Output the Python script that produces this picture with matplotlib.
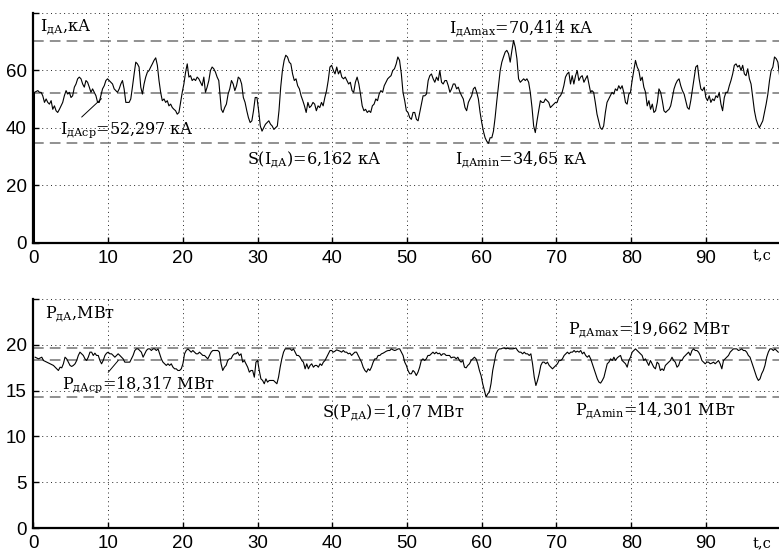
import numpy as np
import matplotlib as mpl
mpl.use('Agg')
import matplotlib.pyplot as plt

mpl.rc('font', family=['Liberation Sans', 'DejaVu Sans'], size=13.5)
mpl.rc('figure', facecolor='w')

##### DATA #####

# arc current, t in s, I in kA
tCurrent = [
    0.13, 0.13,
    0.58, 0.80, 1.02, 1.24, 1.47, 1.69, 1.91, 2.13, 2.36,
    2.58, 2.80, 3.02, 3.24, 3.47, 3.69, 3.91, 4.13, 4.36,
    4.58, 4.80, 5.02, 5.24, 5.47, 5.69, 5.91, 6.13, 6.36,
    6.58, 6.80, 7.02, 7.24, 7.47, 7.69, 7.91, 8.13, 8.36,
    8.58, 8.80, 9.02, 9.24, 9.47, 9.69, 9.91, 10.13, 10.36,
    10.58, 10.80, 11.02, 11.24, 11.47, 11.69, 11.91, 12.13, 12.36,
    12.58, 12.80, 13.02, 13.24, 13.47, 13.69, 13.91, 14.13, 14.36,
    14.58, 14.80, 15.02, 15.24, 15.47, 15.69, 15.91, 16.13, 16.36,
    16.58, 16.80, 17.02, 17.24, 17.47, 17.69, 17.91, 18.13, 18.36,
    18.58, 18.80, 19.02, 19.24, 19.47, 19.69, 19.91, 20.13, 20.36,
    20.58, 20.80, 21.02, 21.24, 21.47, 21.69, 21.91, 22.13, 22.36,
    22.58, 22.80, 23.02, 23.24, 23.47, 23.69, 23.91, 24.13, 24.36,
    24.58, 24.80,
    25.14, 25.36, 25.59, 25.82, 26.05, 26.27, 26.50, 26.73, 26.95, 27.18,
    27.41, 27.64, 27.86, 28.09, 28.32, 28.55, 28.77, 29.00, 29.23, 29.45,
    29.68, 29.91, 30.14, 30.36, 30.59, 30.82, 31.05, 31.27, 31.50, 31.73,
    31.95, 32.18, 32.41, 32.64, 32.86, 33.09, 33.32, 33.55, 33.77, 34.00,
    34.23, 34.45, 34.68, 34.91, 35.14, 35.36, 35.59, 35.82, 36.05, 36.27,
    36.50, 36.73, 36.95, 37.18, 37.41, 37.64, 37.86, 38.09, 38.32, 38.55,
    38.77, 39.00, 39.23, 39.45, 39.68, 39.91, 40.14, 40.36, 40.59, 40.82,
    41.05, 41.27, 41.50, 41.73, 41.95, 42.18, 42.41, 42.64, 42.86, 43.09,
    43.32, 43.55, 43.77, 44.00, 44.23, 44.45, 44.68, 44.91, 45.14, 45.36,
    45.59, 45.82, 46.05, 46.27, 46.50, 46.73, 46.95, 47.18, 47.41, 47.64,
    47.86, 48.09, 48.32, 48.55, 48.77, 49.00,
    49.24, 49.46, 49.69, 49.91, 50.13, 50.36, 50.58, 50.81, 51.03, 51.26,
    51.48, 51.70, 51.93, 52.15, 52.38, 52.60, 52.83, 53.05, 53.27, 53.50,
    53.72, 53.95, 54.17, 54.39, 54.62, 54.84, 55.07, 55.29, 55.52, 55.74,
    55.96, 56.19, 56.41, 56.64, 56.86, 57.09, 57.31, 57.53, 57.76, 57.98,
    58.21, 58.43, 58.65, 58.88, 59.10, 59.33, 59.55, 59.78, 60.00, 60.22,
    60.45, 60.67, 60.90, 61.12, 61.35, 61.57, 61.79, 62.02, 62.24, 62.47,
    62.69, 62.91, 63.14, 63.36, 63.59, 63.81, 64.04, 64.26, 64.48, 64.71,
    64.93, 65.16, 65.38, 65.61, 65.83, 66.05, 66.28, 66.50, 66.73, 66.95,
    67.17, 67.40, 67.62, 67.85, 68.07, 68.30, 68.52, 68.74, 68.97, 69.19,
    69.42, 69.64, 69.87, 70.09, 70.31, 70.54, 70.76, 70.99, 71.21, 71.43,
    71.66, 71.88, 72.11, 72.33, 72.56, 72.78, 73.00, 73.23, 73.45, 73.68,
    73.90, 74.13, 74.35, 74.57,
    74.75, 74.98, 75.20, 75.43, 75.65, 75.87, 76.10, 76.32, 76.55, 76.77,
    77.00, 77.22, 77.44, 77.67, 77.89, 78.12, 78.34, 78.57, 78.79, 79.01,
    79.24, 79.46, 79.69, 79.91, 80.13, 80.36, 80.58, 80.81, 81.03, 81.26,
    81.48, 81.70, 81.93, 82.15, 82.38, 82.60, 82.83, 83.05, 83.27, 83.50,
    83.72, 83.95, 84.17, 84.39, 84.62, 84.84, 85.07, 85.29, 85.52, 85.74,
    85.96, 86.19, 86.41, 86.64, 86.86, 87.09, 87.31, 87.53, 87.76, 87.98,
    88.21, 88.43, 88.65, 88.88, 89.10, 89.33, 89.55, 89.78, 90.00, 90.22,
    90.45, 90.67, 90.90, 91.12, 91.35, 91.57, 91.79, 92.02, 92.24, 92.47,
    92.69, 92.91, 93.14, 93.36, 93.59, 93.81, 94.04, 94.26, 94.48, 94.71,
    94.93, 95.16, 95.38, 95.61, 95.83, 96.05, 96.28, 96.50, 96.73, 96.95,
    97.17, 97.40, 97.62, 97.85, 98.07, 98.30, 98.52, 98.74, 98.97, 99.19,
    99.42, 99.64, 99.87,
]
iCurrent = [
    0.0, 52.4,
    53.0, 52.4, 52.4, 51.2, 48.9, 50.1, 48.9, 48.3, 49.5,
    46.5, 47.7, 46.0, 45.4, 46.5, 47.7, 48.9, 51.2, 53.0,
    51.8, 52.4, 50.6, 51.2, 54.2, 55.3, 57.1, 57.7, 57.1,
    55.3, 54.2, 56.5, 55.9, 54.2, 52.4, 53.6, 52.4, 51.2,
    48.9, 48.9, 51.2, 53.6, 54.7, 56.5, 57.1, 56.5, 55.9,
    55.3, 53.6, 53.0, 52.4, 53.6, 55.3, 56.5, 53.6, 48.9,
    48.9, 48.9, 50.1, 54.2, 58.8, 62.9, 62.3, 61.2, 54.2,
    51.8, 55.3, 57.7, 59.4, 60.0, 61.2, 62.3, 63.5, 64.4,
    61.8, 56.5, 52.4, 49.5, 50.1, 48.9, 49.5, 47.7, 48.3,
    47.1, 46.5, 46.0, 44.8, 45.4, 48.9, 52.4, 55.3, 59.4,
    62.3, 57.7, 58.2, 56.5, 57.1, 56.5, 57.7, 57.1, 55.9,
    54.7, 57.7, 52.4, 54.2, 56.5, 60.0, 61.2, 60.6, 59.4,
    57.7, 56.5,
    46.5, 45.4, 47.1, 48.3, 51.8, 53.6, 56.5, 55.3, 53.0, 54.7,
    57.7, 57.1, 55.3, 50.6, 48.9, 46.0, 43.6, 41.9, 42.5, 46.0,
    50.6, 50.6, 46.0, 40.7, 38.9, 40.1, 41.3, 41.9, 42.5, 41.3,
    40.7, 39.5, 40.1, 40.7, 46.0, 54.2, 60.0, 63.5, 65.3, 64.7,
    62.9, 62.3, 58.8, 56.5, 57.1, 54.7, 53.6, 51.2, 49.5, 47.7,
    45.4, 48.9, 47.1, 47.7, 48.9, 48.3, 46.0, 47.7, 47.1, 48.9,
    47.7, 50.6, 53.0, 56.5, 61.2, 61.8, 60.0, 58.8, 61.2, 58.8,
    60.0, 57.7, 57.1, 57.7, 56.5, 55.3, 55.9, 53.0, 52.4, 55.9,
    57.7, 55.3, 51.8, 47.7, 46.0, 46.5, 45.4, 46.0, 45.4, 47.7,
    48.3, 50.1, 49.5, 51.8, 53.0, 52.4, 54.7, 55.9, 57.1, 57.7,
    58.2, 60.0, 60.6, 62.3, 64.7, 63.5,
    58.8, 52.4, 49.5, 46.0, 45.4, 43.6, 43.0, 45.4, 45.4, 43.0,
    42.5, 45.4, 48.3, 51.2, 51.2, 51.8, 56.5, 58.2, 58.8, 57.1,
    55.9, 57.7, 56.5, 60.0, 55.9, 55.3, 56.5, 56.5, 54.7, 52.4,
    53.6, 55.3, 55.3, 53.6, 54.2, 52.4, 51.2, 50.1, 47.1, 46.0,
    48.9, 50.1, 51.2, 53.6, 54.2, 52.4, 50.1, 45.4, 41.9, 38.9,
    36.6, 35.4, 34.65, 36.6, 36.6, 38.9, 43.6, 49.5, 54.7, 60.0,
    62.9, 64.7, 66.4, 67.0, 65.8, 62.9, 67.0, 70.414, 68.2, 64.1,
    57.1, 55.9, 56.5, 57.1, 56.5, 57.1, 55.9, 52.4, 47.1, 40.7,
    38.4, 42.5, 46.0, 49.5, 48.9, 48.9, 50.1, 49.5, 48.9, 47.1,
    47.7, 48.3, 48.9, 48.9, 50.6, 51.2, 52.4, 54.7, 57.7, 58.8,
    59.4, 55.3, 58.2, 55.3, 58.2, 60.0, 56.5, 57.7, 58.2, 55.9,
    57.1, 58.2, 55.3, 52.4,
    53.0, 52.4, 48.9, 44.8, 42.5, 40.1, 39.5, 40.7, 45.4, 48.9,
    50.1, 51.2, 52.4, 51.8, 53.6, 53.0, 54.7, 53.6, 54.7, 52.4,
    48.9, 48.3, 51.8, 52.4, 56.5, 60.0, 63.5, 61.2, 60.0, 56.5,
    57.7, 54.2, 52.4, 47.7, 49.5, 46.5, 48.3, 45.4, 46.0, 48.9,
    53.6, 52.4, 49.5, 46.0, 45.4, 46.0, 46.5, 47.7, 50.6, 53.6,
    55.3, 56.5, 57.1, 54.7, 53.0, 51.8, 49.5, 47.1, 46.5, 49.5,
    53.6, 57.7, 61.2, 61.8, 57.1, 53.6, 53.0, 54.2, 50.6, 49.5,
    51.2, 48.9, 50.1, 49.5, 51.2, 50.6, 52.4, 48.3, 46.0, 50.6,
    52.4, 52.4, 54.7, 56.5, 58.8, 61.8, 62.3, 61.2, 61.8, 60.0,
    61.8, 58.8, 58.2, 60.6, 57.1, 55.3, 50.6, 46.0, 43.0, 41.3,
    40.1, 41.3, 42.5, 45.4, 48.3, 51.8, 56.5, 60.0, 61.2, 64.7,
    64.1, 62.9, 58.2,
]

# arc power, t in s, P in MW
tPower = [
    0.22, 0.67, 1.11, 1.33, 1.78, 2.22, 2.67, 3.11,
    3.33, 3.56, 3.78, 4.00, 4.22, 4.44, 4.67, 4.89, 5.11,
    5.33, 5.56, 5.78, 6.00, 6.22, 6.44, 6.67, 6.89, 7.11,
    7.33, 7.56, 7.78, 8.00, 8.22, 8.44, 8.67, 8.89, 9.11,
    9.33, 9.56, 9.78, 10.00, 10.22, 10.44, 10.67, 10.89, 11.11,
    11.33, 11.56, 11.78, 12.00, 12.22, 12.44, 12.67, 12.89, 13.11,
    13.33, 13.56, 13.78, 14.00, 14.22, 14.44, 14.67, 14.89, 15.11,
    15.33, 15.56, 15.78, 16.00, 16.22, 16.44, 16.67, 16.89, 17.11,
    17.33, 17.56, 17.78, 18.00, 18.22, 18.44, 18.67, 18.89, 19.11,
    19.33, 19.56, 19.78, 20.00, 20.22, 20.44, 20.67, 20.89, 21.11,
    21.33, 21.56, 21.78, 22.00, 22.22, 22.44, 22.67, 22.89, 23.11,
    23.33, 23.56, 23.78, 24.00, 24.22, 24.44, 24.67, 24.89, 25.11,
    25.33, 25.56, 25.78, 26.00, 26.22, 26.44, 26.67, 26.89, 27.11,
    27.33, 27.56, 27.78, 28.00, 28.22, 28.44, 28.67, 28.89, 29.11,
    29.33, 29.56, 29.78, 30.00, 30.22, 30.44, 30.67, 30.89, 31.11,
    31.33, 31.56,
    31.91, 32.13, 32.36, 32.58, 32.80, 33.02, 33.24, 33.47, 33.69,
    33.91, 34.13, 34.36, 34.58, 34.80, 35.02, 35.24, 35.47, 35.69,
    35.91, 36.13, 36.36, 36.58, 36.80, 37.02, 37.24, 37.47, 37.69,
    37.91, 38.13, 38.36, 38.58, 38.80, 39.02, 39.24, 39.47, 39.69,
    39.91, 40.13, 40.36, 40.58, 40.80, 41.02, 41.24, 41.47, 41.69,
    41.91, 42.13, 42.36, 42.58, 42.80, 43.02, 43.24, 43.47, 43.69,
    43.91, 44.13, 44.36, 44.58, 44.80, 45.02, 45.24, 45.47, 45.69,
    45.91, 46.13, 46.36, 46.58, 46.80, 47.02, 47.24, 47.47, 47.69,
    47.91, 48.13, 48.36, 48.58, 48.80, 49.02, 49.24, 49.47, 49.69,
    49.91, 50.13, 50.36, 50.58, 50.80, 51.02, 51.24, 51.47, 51.69,
    51.91, 52.13, 52.36, 52.58, 52.80, 53.02, 53.24, 53.47, 53.69,
    53.91, 54.13, 54.36, 54.58, 54.80, 55.02, 55.24, 55.47, 55.69,
    55.91, 56.13, 56.36, 56.58, 56.80, 57.02, 57.24, 57.47, 57.69,
    57.91, 58.13, 58.36, 58.58, 58.80, 59.02, 59.24, 59.47, 59.69,
    59.91, 60.13, 60.36, 60.58, 60.80, 61.02, 61.24, 61.47, 61.69,
    61.91, 62.13, 62.36, 62.58, 62.80, 63.02, 63.24, 63.47, 63.69,
    63.91, 64.13, 64.36, 64.58, 64.80, 65.02, 65.24, 65.47, 65.69,
    65.91, 66.13, 66.36,
    66.58, 66.80, 67.03, 67.25, 67.47, 67.69, 67.91, 68.14, 68.36,
    68.58, 68.80, 69.03, 69.25, 69.47, 69.69, 69.91, 70.14, 70.36,
    70.58, 70.80, 71.03, 71.25, 71.47, 71.69, 71.91, 72.14, 72.36,
    72.58, 72.80, 73.03, 73.25, 73.47, 73.69, 73.91, 74.14, 74.36,
    74.58, 74.80, 75.03, 75.25, 75.47, 75.69, 75.91, 76.14, 76.36,
    76.58, 76.80, 77.03, 77.25, 77.47, 77.69, 77.91, 78.14, 78.36,
    78.58, 78.80, 79.03, 79.25, 79.47, 79.69, 79.91, 80.14, 80.36,
    80.58, 80.80, 81.03, 81.25, 81.47, 81.69, 81.91, 82.14, 82.36,
    82.58, 82.80, 83.03, 83.25, 83.47, 83.69, 83.91, 84.14, 84.36,
    84.58, 84.80, 85.03, 85.25, 85.47, 85.69, 85.91, 86.14, 86.36,
    86.58, 86.80, 87.03, 87.25, 87.47, 87.69, 87.91, 88.14, 88.36,
    88.58, 88.80, 89.03, 89.25, 89.47, 89.69, 89.91, 90.14, 90.36,
    90.58, 90.80, 91.03, 91.25, 91.47, 91.69, 91.91, 92.14, 92.36,
    92.58, 92.80, 93.03, 93.25, 93.47, 93.69, 93.91, 94.14, 94.36,
    94.58, 94.80, 95.03, 95.25, 95.47, 95.69, 95.91, 96.14, 96.36,
    96.58, 96.80, 97.03, 97.25, 97.47, 97.69, 97.91, 98.14, 98.36,
    98.58, 98.80, 99.03, 99.25, 99.47, 99.69,
]
pPower = [
    18.65, 18.47, 18.65, 18.29, 18.11, 17.93, 17.75, 17.38,
    17.20, 17.56, 17.49, 17.93, 18.65, 18.47, 18.11, 17.75, 17.64,
    17.75, 17.93, 18.29, 18.84, 19.20, 19.02, 18.84, 18.47, 18.29,
    18.65, 19.20, 19.20, 18.84, 19.09, 18.84, 18.84, 18.29, 17.93,
    18.29, 18.84, 19.09, 19.20, 19.02, 19.02, 18.84, 18.65, 18.84,
    19.02, 18.84, 18.65, 18.47, 18.11, 18.11, 18.11, 18.11, 18.47,
    18.84, 19.38, 19.56, 19.56, 19.38, 19.20, 18.65, 19.02, 19.38,
    19.56, 19.56, 19.38, 19.56, 19.56, 19.38, 19.56, 19.02, 18.47,
    18.11, 17.93, 17.75, 17.93, 17.75, 17.93, 17.56, 17.38, 17.38,
    17.20, 17.20, 17.38, 17.93, 19.02, 19.38, 19.56, 19.38, 19.20,
    19.38, 19.20, 19.02, 19.02, 19.20, 19.02, 18.84, 18.84, 18.65,
    18.47, 18.84, 19.20, 19.38, 19.38, 19.38, 19.38, 19.20, 17.93,
    17.20, 17.56, 17.75, 18.29, 18.47, 18.47, 18.84, 19.02, 19.02,
    19.20, 18.84, 19.02, 18.11, 18.29, 17.93, 17.56, 17.02, 17.20,
    17.20, 16.47, 18.11, 18.29, 17.20, 16.29, 16.11, 15.75, 16.29,
    15.93, 16.11,
    16.11, 16.11, 15.93, 15.75, 16.47, 17.56, 18.47, 19.20, 19.56,
    19.56, 19.56, 19.56, 19.38, 19.56, 19.20, 18.84, 18.84, 18.65,
    18.29, 18.11, 17.38, 17.93, 17.38, 17.75, 17.93, 17.56, 17.75,
    17.75, 17.56, 17.93, 17.75, 18.11, 18.29, 18.65, 19.02, 19.38,
    19.38, 19.20, 19.31, 19.45, 19.38, 19.31, 19.20, 19.38, 19.20,
    19.20, 19.02, 19.09, 18.84, 19.02, 19.20, 19.20, 18.84, 18.47,
    18.11, 17.56, 17.20, 17.02, 17.38, 17.20, 17.56, 18.11, 18.47,
    18.47, 18.84, 18.84, 19.02, 19.09, 19.20, 19.31, 19.38, 19.38,
    19.56, 19.45, 19.38, 19.45, 19.56, 19.56, 19.20, 18.84, 18.11,
    17.75, 17.20, 16.84, 16.84, 17.20, 17.02, 16.65, 17.02, 17.56,
    18.29, 18.47, 18.29, 18.47, 18.84, 18.84, 19.02, 19.20, 19.02,
    19.20, 19.02, 19.09, 18.84, 19.02, 19.02, 18.84, 18.84, 18.84,
    18.58, 18.65, 18.65, 18.47, 18.65, 18.29, 18.11, 18.29, 17.56,
    17.49, 17.75, 17.93, 18.29, 18.47, 18.65, 18.47, 17.93, 17.20,
    16.65, 15.75, 15.02, 14.301, 14.65, 14.84, 15.75, 17.20, 18.11,
    19.02, 19.38, 19.56, 19.56, 19.64, 19.662, 19.56, 19.64, 19.56,
    19.56, 19.56, 19.60, 19.66, 19.38, 19.20, 19.20, 19.02, 19.20,
    19.02, 19.02, 18.84,
    19.02, 17.93, 16.47, 15.56, 16.11, 16.84, 17.75, 18.11, 18.11,
    17.93, 18.11, 17.75, 17.56, 17.38, 17.56, 17.75, 17.93, 18.29,
    18.29, 18.47, 18.84, 19.02, 19.20, 19.02, 19.20, 19.20, 19.38,
    19.20, 19.31, 19.20, 19.38, 19.02, 19.20, 18.84, 18.65, 18.84,
    18.47, 17.93, 17.38, 16.84, 16.29, 15.93, 15.82, 16.11, 16.47,
    17.20, 17.93, 18.11, 18.47, 18.29, 18.65, 18.29, 18.58, 18.73,
    18.84, 18.29, 18.11, 17.93, 17.56, 18.29, 18.65, 19.20, 19.38,
    19.56, 19.38, 19.20, 19.02, 18.84, 18.29, 18.47, 18.11, 17.75,
    18.29, 17.93, 17.56, 17.38, 18.11, 17.93, 17.20, 17.38, 17.20,
    17.75, 17.93, 18.11, 18.29, 18.65, 18.29, 18.11, 17.56, 17.75,
    18.29, 18.29, 18.65, 18.84, 19.02, 19.20, 18.84, 19.38, 19.56,
    19.38, 19.38, 19.20, 18.84, 18.29, 18.11, 17.93, 18.11, 18.11,
    17.93, 18.00, 18.11, 17.93, 18.11, 18.29, 17.93, 17.38, 18.29,
    18.47, 18.65, 18.84, 19.20, 19.38, 19.56, 19.56, 19.56, 19.38,
    19.45, 19.56, 19.38, 19.38, 19.20, 18.84, 18.65, 18.11, 17.56,
    17.02, 16.47, 16.11, 16.29, 16.84, 17.20, 17.75, 18.65, 19.20,
    19.56, 19.56, 19.38, 19.56, 19.38, 19.20,
]

# statistics printed on the chart
iMax, iMean, iMin, iStd = 70.414, 52.297, 34.65, 6.162
pMax, pMean, pMin, pStd = 19.662, 18.317, 14.301, 1.07

xTicks = [0, 10, 20, 30, 40, 50, 60, 70, 80, 90]
iTicks = [0, 20, 40, 60, 80]
pTicks = [0, 5, 10, 15, 20, 25]

assert len(tCurrent) == len(iCurrent), (len(tCurrent), len(iCurrent))
assert len(tPower) == len(pPower), (len(tPower), len(pPower))

##### PLOT #####

serif = 'DejaVu Serif'
txtSize = 11.5
dashStyle = (0, (7, 4))
dashColor = '0.45'


def fmt(v):
    # decimal comma, as in the original
    return ('%g' % v).replace('.', ',')


def style_axis(ax, ymax, yticks):
    ax.set_xlim(0, 100)
    ax.set_ylim(0, ymax)
    ax.set_xticks(xTicks)
    ax.set_yticks(yticks)
    ax.set_yticklabels([str(v) for v in yticks[:-1]] + [''])
    ax.grid(True, linestyle=(0, (1, 3.5)), color='0.15', linewidth=0.7)
    for side in ['top', 'right']:
        ax.spines[side].set_visible(False)
    for side in ['left', 'bottom']:
        ax.spines[side].set_linewidth(1.6)
    ax.tick_params(axis='both', direction='in', length=4, width=1)
    ax.tick_params(axis='x', pad=5)
    ax.tick_params(axis='y', pad=5)


fig = plt.figure(figsize=(7.79, 5.55), dpi=100)
axI = fig.add_axes([0.043, 0.5622, 0.959, 0.4144])
axP = fig.add_axes([0.043, 0.0486, 0.959, 0.4126])

# current
style_axis(axI, 80, iTicks)
for v in [iMax, iMean, iMin]:
    axI.axhline(v, color=dashColor, linewidth=1.1, linestyle=dashStyle)
axI.plot(tCurrent, iCurrent, color='k', linewidth=0.8)

axI.text(0.9, 73.7, r'$\mathregular{I_{дА}}$,кА', family=serif, size=txtSize)
axI.text(55.6, 73.3, r'$\mathregular{I_{дАmax}}$=' + fmt(iMax) + ' кА', family=serif, size=txtSize)
axI.text(28.6, 27.4, r'S($\mathregular{I_{дА}}$)=' + fmt(iStd) + ' кА', family=serif, size=txtSize)
axI.text(56.4, 27.4, r'$\mathregular{I_{дАmin}}$=' + fmt(iMin) + ' кА', family=serif, size=txtSize)
axI.text(3.5, 38.2, r'$\mathregular{I_{дАср}}$=' + fmt(iMean) + ' кА', family=serif, size=txtSize)
axI.annotate('', xy=(9.1, 50.2), xytext=(6.45, 43.8),
             arrowprops=dict(arrowstyle='-', lw=0.7, color='k', shrinkA=0, shrinkB=0))
axI.text(96.2, -6.0, 't,c', family=serif, size=10.5, clip_on=False)

# power
style_axis(axP, 25, pTicks)
for v in [pMax, pMean, pMin]:
    axP.axhline(v, color=dashColor, linewidth=1.1, linestyle=dashStyle)
axP.plot(tPower, pPower, color='k', linewidth=0.8)

axP.text(1.5, 23.0, r'$\mathregular{P_{дА}}$,МВт', family=serif, size=txtSize)
axP.text(71.6, 21.2, r'$\mathregular{P_{дАmax}}$=' + fmt(pMax) + ' МВт', family=serif, size=txtSize)
axP.text(38.6, 12.2, r'S($\mathregular{P_{дА}}$)=' + fmt(pStd) + ' МВт', family=serif, size=txtSize)
axP.text(72.5, 12.4, r'$\mathregular{P_{дАmin}}$=' + fmt(pMin) + ' МВт', family=serif, size=txtSize)
axP.text(3.8, 15.3, r'$\mathregular{P_{дАср}}$=' + fmt(pMean) + ' МВт', family=serif, size=txtSize)
axP.annotate('', xy=(11.35, 18.3), xytext=(10.0, 17.0),
             arrowprops=dict(arrowstyle='-', lw=0.7, color='k', shrinkA=0, shrinkB=0))
axP.text(96.2, -2.2, 't,c', family=serif, size=10.5, clip_on=False)

fig.savefig('out.png', dpi=100)
